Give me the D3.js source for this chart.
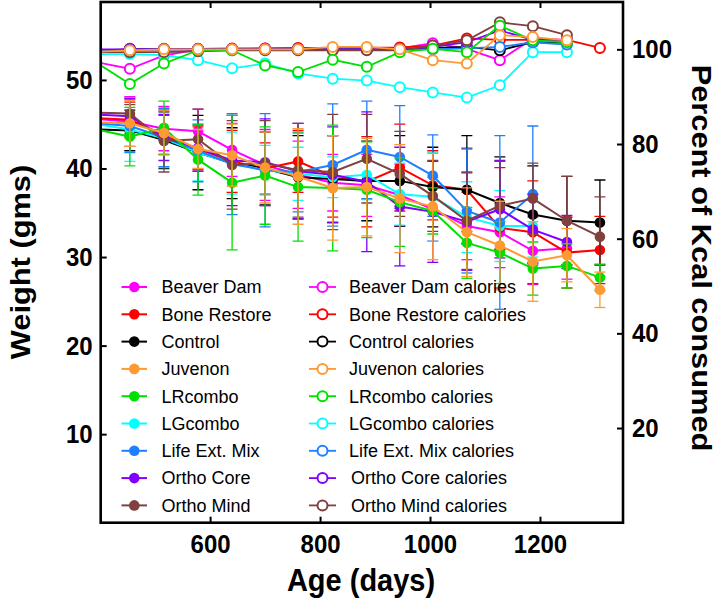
<!DOCTYPE html>
<html>
<head>
<meta charset="utf-8">
<script src="https://cdn.jsdelivr.net/npm/d3@7"></script>
<style>
  html, body { margin: 0; padding: 0; background: #fff; }
  svg { display: block; font-family: "Liberation Sans", Arial, sans-serif; }
</style>
</head>
<body>
<svg id="chart" width="718" height="600"></svg>
<script>
// ---------------- DATA ----------------
const ages = [393, 454, 516, 578, 640, 700, 760, 823, 885, 945, 1005, 1067, 1127, 1187, 1249, 1309];

const groups = ["Beaver Dam", "Bone Restore", "Control", "Juvenon", "LRcombo", "LGcombo", "Life Ext. Mix", "Ortho Core", "Ortho Mind"];
const groupColors = ["#ff00ff", "#ff0000", "#000000", "#ff9933", "#00e000", "#00ffff", "#1e7fff", "#8000ff", "#804040"];

// body weight (gms), mean
const wBeaverDam   = [45.6, 45.3, 44.5, 44.2, 42.1, 40.4, 39.3, 38.4, 38.1, 37.0, 35.4, 33.5, 32.8, 30.7, 31.0, null];
const wBoneRestore = [45.7, 45.5, 43.8, 42.2, 40.8, 40.0, 40.8, 39.1, 38.5, 40.1, 38.1, 37.6, 33.3, 32.8, 30.5, 30.8];
const wControl     = [44.4, 44.3, 43.2, 41.8, 40.6, 40.0, 39.0, 38.8, 38.6, 38.6, 37.9, 37.6, 36.1, 34.8, 34.1, 33.9];
const wJuvenon     = [45.2, 45.1, 44.0, 42.2, 41.5, 40.1, 39.1, 37.8, 37.9, 36.6, 35.7, 32.8, 31.3, 29.5, 30.2, 26.3];
const wLRcombo     = [44.4, 43.6, 44.6, 41.0, 38.4, 39.2, 37.9, 37.8, 37.6, 36.2, 35.2, 31.6, 30.5, 28.7, 29.0, 27.7];
const wLGcombo     = [45.0, 44.4, 43.4, 41.8, 40.6, 39.8, 39.4, 39.0, 39.3, 37.1, 36.8, 34.5, 33.5, 33.5, null, null];
const wLifeExt     = [45.1, 44.8, 43.5, 42.0, 40.5, 39.8, 39.6, 40.4, 42.1, 41.3, 39.2, 35.2, 33.9, 37.1, null, null];
const wOrthoCore   = [46.1, 45.9, 43.5, 42.3, 40.9, 40.7, 39.7, 39.3, 38.5, 35.7, 35.1, 34.0, 35.4, 33.1, 31.7, null];
const wOrthoMind   = [46.3, 46.2, 43.1, 43.3, 40.4, 40.6, 39.8, 39.6, 41.1, 39.4, 36.9, 34.1, 35.8, 36.6, 34.1, 32.3];

// body weight error (± SD)
const eBeaverDam   = [1.5, 2.8, 2.5, 2.5, 3.0, 4.0, 3.8, 3.2, 3.5, 3.5, 3.6, 3.8, 4.0, 3.8, 3.5, null];
const eBoneRestore = [1.5, 2.0, 2.2, 2.5, 3.5, 2.9, 3.5, 4.6, 5.1, 4.9, 3.9, 4.7, 6.8, 5.8, 4.0, 3.8];
const eControl     = [1.5, 2.3, 3.2, 4.2, 4.0, 4.1, 4.7, 4.9, 4.5, 5.1, 4.5, 6.1, 5.2, 5.5, 5.0, 4.8];
const eJuvenon     = [1.5, 2.6, 2.5, 2.2, 3.5, 4.0, 5.4, 5.9, 5.5, 6.1, 6.0, 5.0, 5.0, 4.5, 3.0, 2.0];
const eLRcombo     = [1.5, 3.3, 3.0, 4.0, 7.6, 5.5, 6.1, 7.1, 5.4, 5.0, 2.6, 4.0, 3.5, 3.0, 2.5, 1.5];
const eLGcombo     = [1.5, 3.6, 3.3, 3.2, 3.5, 2.8, 3.0, 2.3, 2.8, 3.5, 5.0, 4.0, 4.0, 3.5, null, null];
const eLifeExt     = [1.5, 3.0, 3.3, 3.5, 5.7, 6.4, 4.5, 6.9, 5.5, 5.8, 4.6, 7.0, 9.8, 7.7, null, null];
const eOrthoCore   = [1.5, 2.0, 2.6, 2.6, 5.1, 4.9, 5.4, 5.4, 7.9, 6.7, 5.7, 5.5, 5.5, 4.0, 3.0, null];
const eOrthoMind   = [1.5, 1.0, 3.5, 3.4, 5.0, 4.8, 5.3, 6.5, 5.0, 4.8, 4.0, 5.5, 5.0, 4.0, 5.0, 4.5];

// percent of Kcal consumed
const cBeaverDam   = [97.3, 95.9, 98.7, 100.0, 100.0, 100.2, 100.2, 100.2, 100.2, 100.2, 101.3, 100.1, 97.7, 102.3, 102.0, null];
const cBoneRestore = [99.4, 100.1, 100.1, 100.1, 100.2, 100.2, 100.3, 100.3, 100.3, 100.4, 100.8, 102.3, 102.0, 102.0, 102.0, 100.3];
const cControl     = [99.7, 100.0, 100.0, 100.0, 100.0, 100.0, 100.0, 100.0, 100.0, 100.0, 100.3, 100.5, 99.8, 101.5, 101.5, null];
const cJuvenon     = [99.5, 99.8, 100.0, 100.0, 100.0, 100.0, 100.0, 100.5, 100.5, 100.0, 97.7, 97.0, 103.0, 102.6, 101.9, null];
const cLRcombo     = [97.2, 92.7, 97.0, 99.8, 99.8, 96.6, 95.2, 97.8, 96.3, 99.4, 100.1, 99.4, 105.0, 101.9, 101.5, null];
const cLGcombo     = [99.0, 99.0, 98.8, 97.7, 96.0, 97.0, 94.9, 93.8, 93.4, 92.0, 90.9, 89.8, 92.4, 99.4, 99.4, null];
const cLifeExt     = [99.8, 100.0, 100.0, 100.0, 100.0, 100.0, 100.0, 100.0, 100.0, 100.0, 100.0, 100.2, 100.5, 101.5, 101.0, null];
const cOrthoCore   = [100.0, 100.0, 100.0, 100.0, 100.0, 100.0, 100.0, 100.0, 100.0, 100.0, 100.5, 101.5, 104.0, 102.0, 102.0, null];
const cOrthoMind   = [99.4, 99.4, 99.4, 99.6, 99.8, 99.8, 99.8, 99.8, 99.8, 99.8, 100.8, 101.9, 105.7, 104.9, 103.0, null];

const xTicks = [600, 800, 1000, 1200];
const yLeftTicks = [10, 20, 30, 40, 50];
const yRightTicks = [20, 40, 60, 80, 100];

const weightSeries = [wBeaverDam, wBoneRestore, wControl, wJuvenon, wLRcombo, wLGcombo, wLifeExt, wOrthoCore, wOrthoMind];
const errorSeries  = [eBeaverDam, eBoneRestore, eControl, eJuvenon, eLRcombo, eLGcombo, eLifeExt, eOrthoCore, eOrthoMind];
const kcalSeries   = [cBeaverDam, cBoneRestore, cControl, cJuvenon, cLRcombo, cLGcombo, cLifeExt, cOrthoCore, cOrthoMind];

// draw order (later on top)
const drawOrder = [0, 1, 2, 5, 6, 7, 8, 4, 3];

// ---------------- LAYOUT ----------------
const L = 100.7, R = 623, T = 2, B = 522.7;
const STRETCH = 1.1; // reference glyphs are taller than wide
const svg = d3.select("#chart");

const x = d3.scaleLinear().domain([401, 1351]).range([L, R]);
const yL = d3.scaleLinear().domain([0, 58.8]).range([B, T]);
const yR = d3.scaleLinear().domain([0, 110]).range([B, T]);

svg.append("defs").append("clipPath").attr("id", "plotclip")
  .append("rect").attr("x", L).attr("y", T).attr("width", R - L).attr("height", B - T);

const plot = svg.append("g").attr("clip-path", "url(#plotclip)");

function pts(vals) {
  return ages.map((a, i) => ({ a, v: vals[i], i })).filter(d => d.v != null);
}

// calorie series (open circles)
drawOrder.forEach(k => {
  const col = groupColors[k];
  const data = pts(kcalSeries[k]);
  const g = plot.append("g");
  g.append("path").datum(data)
    .attr("fill", "none").attr("stroke", col).attr("stroke-width", 1.8)
    .attr("d", d3.line().x(d => x(d.a)).y(d => yR(d.v)));
  g.selectAll("circle").data(data).join("circle")
    .attr("cx", d => x(d.a)).attr("cy", d => yR(d.v)).attr("r", 5)
    .attr("fill", "#fff").attr("stroke", col).attr("stroke-width", 2);
});

// weight series with error bars (filled circles)
drawOrder.forEach(k => {
  const col = groupColors[k];
  const data = pts(weightSeries[k]);
  const errs = errorSeries[k];
  const g = plot.append("g");
  const eb = g.append("g").attr("stroke", col).attr("stroke-width", 1.3);
  data.forEach(d => {
    const e = errs[d.i];
    if (e == null) return;
    const y1 = yL(d.v + e), y2 = yL(d.v - e), cx = x(d.a);
    eb.append("line").attr("x1", cx).attr("x2", cx).attr("y1", y1).attr("y2", y2);
    eb.append("line").attr("x1", cx - 5.5).attr("x2", cx + 5.5).attr("y1", y1).attr("y2", y1);
    eb.append("line").attr("x1", cx - 5.5).attr("x2", cx + 5.5).attr("y1", y2).attr("y2", y2);
  });
  g.append("path").datum(data)
    .attr("fill", "none").attr("stroke", col).attr("stroke-width", 2)
    .attr("d", d3.line().x(d => x(d.a)).y(d => yL(d.v)));
  g.selectAll("circle").data(data).join("circle")
    .attr("cx", d => x(d.a)).attr("cy", d => yL(d.v)).attr("r", 5.3)
    .attr("fill", col);
});

// ---------------- AXES ----------------
const tickFont = g => g.selectAll("text")
  .attr("font-family", "'Liberation Sans', Arial, sans-serif")
  .attr("font-weight", "bold").attr("font-size", 24).attr("fill", "#000");

const axB = svg.append("g").attr("transform", `translate(0,${B})`)
  .call(d3.axisBottom(x).tickValues(xTicks).tickFormat(d3.format("d")).tickSizeInner(-6).tickSizeOuter(0).tickPadding(12));
const axT = svg.append("g").attr("transform", `translate(0,${T})`)
  .call(d3.axisTop(x).tickValues(xTicks).tickFormat("").tickSizeInner(-6).tickSizeOuter(0));
const axL = svg.append("g").attr("transform", `translate(${L},0)`)
  .call(d3.axisLeft(yL).tickValues(yLeftTicks).tickSizeInner(-6).tickSizeOuter(0).tickPadding(8));
const axR = svg.append("g").attr("transform", `translate(${R},0)`)
  .call(d3.axisRight(yR).tickValues(yRightTicks).tickSizeInner(-6).tickSizeOuter(0).tickPadding(9));
[axB, axT, axL, axR].forEach(a => {
  a.select(".domain").remove();
  a.selectAll(".tick line").attr("stroke", "#000").attr("stroke-width", 2);
  tickFont(a);
});
// vertical stretch of tick labels
axB.selectAll(".tick text").attr("transform", `translate(0,12) scale(1,${STRETCH}) translate(0,-12)`);
axL.selectAll(".tick text").attr("transform", `scale(1,${STRETCH})`);
axR.selectAll(".tick text").attr("transform", `scale(1,${STRETCH})`);

svg.append("rect").attr("x", L).attr("y", T).attr("width", R - L).attr("height", B - T)
  .attr("fill", "none").attr("stroke", "#000").attr("stroke-width", 2.6);

// axis titles
svg.append("text").attr("transform", `translate(30,262) rotate(-90) scale(${STRETCH},1)`)
  .attr("text-anchor", "middle").attr("font-weight", "bold").attr("font-size", 28)
  .text("Weight (gms)");
svg.append("text").attr("transform", `translate(692,258) rotate(90) scale(${STRETCH},1)`)
  .attr("text-anchor", "middle").attr("font-weight", "bold").attr("font-size", 28)
  .text("Percent of Kcal consumed");
svg.append("text").attr("transform", `translate(361,591) scale(1,${STRETCH})`)
  .attr("text-anchor", "middle").attr("font-weight", "bold").attr("font-size", 29)
  .text("Age (days)");

// ---------------- LEGEND ----------------
const legend = svg.append("g");
const rowY0 = 287, rowDy = 27.3;
groups.forEach((name, i) => {
  const yy = rowY0 + i * rowDy;
  const col = groupColors[i];
  // weight entry
  legend.append("line").attr("x1", 121.5).attr("x2", 147).attr("y1", yy).attr("y2", yy)
    .attr("stroke", col).attr("stroke-width", 2);
  legend.append("circle").attr("cx", 134.3).attr("cy", yy).attr("r", 5.3).attr("fill", col);
  legend.append("text").attr("x", 161.5).attr("y", yy).attr("dy", "0.35em")
    .attr("font-size", 18).text(name);
  // calorie entry
  legend.append("line").attr("x1", 309).attr("x2", 336).attr("y1", yy).attr("y2", yy)
    .attr("stroke", col).attr("stroke-width", 1.8);
  legend.append("circle").attr("cx", 322.5).attr("cy", yy).attr("r", 5)
    .attr("fill", "#fff").attr("stroke", col).attr("stroke-width", 2);
  legend.append("text").attr("x", i >= 7 ? 351 : 349).attr("y", yy).attr("dy", "0.35em")
    .attr("font-size", 18).text(name + " calories");
});
</script>
</body>
</html>
